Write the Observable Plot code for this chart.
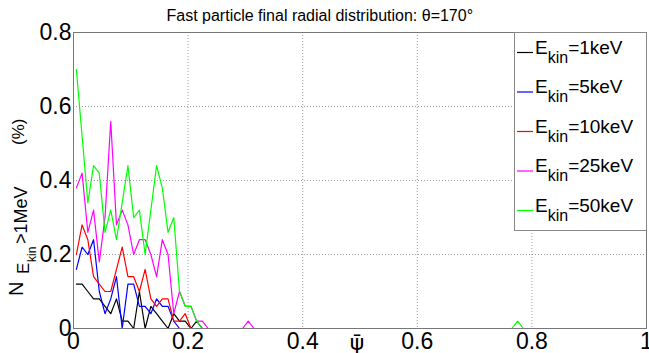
<!DOCTYPE html>
<html><head><meta charset="utf-8">
<script src="https://cdn.jsdelivr.net/npm/d3@7"></script>
<script src="https://cdn.jsdelivr.net/npm/@observablehq/plot@0.6"></script>
<style>html,body{margin:0;padding:0;background:#fff}svg{display:block}</style>
</head><body><div id="chart"></div>
<script>
// bin centres of normalised flux psi-bar
const psi = [0.005,0.015,0.025,0.035,0.045,0.055,0.065,0.075,0.085,0.095,
0.105,0.115,0.125,0.135,0.145,0.155,0.165,0.175,0.185,0.195,
0.205,0.215,0.225,0.235,0.245,0.255,0.265,0.275,0.285,0.295,
0.305,0.315,0.325,0.335,0.345,0.355,0.365,0.375,0.385,0.395,
0.405,0.415,0.425,0.435,0.445,0.455,0.465,0.475,0.485,0.495,
0.505,0.515,0.525,0.535,0.545,0.555,0.565,0.575,0.585,0.595,
0.605,0.615,0.625,0.635,0.645,0.655,0.665,0.675,0.685,0.695,
0.705,0.715,0.725,0.735,0.745,0.755,0.765,0.775,0.785,0.795,
0.805,0.815,0.825,0.835,0.845,0.855,0.865,0.875,0.885,0.895,
0.905,0.915,0.925,0.935,0.945,0.955,0.965,0.975,0.985,0.995];

const e1keV = [0.12,0.12,0.10,0.08,0.08,0.06,0.04,0.08,0.02,0.02,
0,0.10,0,0.06,0.04,0.02,0,0.04,0.02,0.02,
0,0.02,0,0,0,0,0,0,0,0, 0,0,0,0,0,0,0,0,0,0,
0,0,0,0,0,0,0,0,0,0, 0,0,0,0,0,0,0,0,0,0,
0,0,0,0,0,0,0,0,0,0, 0,0,0,0,0,0,0,0,0,0,
0,0,0,0,0,0,0,0,0,0, 0,0,0,0,0,0,0,0,0,0];
const e5keV = [0.16,0.22,0.20,0.24,0.10,0.04,0.08,0.14,0,0.12,
0.12,0.06,0.06,0.04,0.08,0.06,0.06,0.02,0,0,
0,0,0,0,0,0,0,0,0,0, 0,0,0,0,0,0,0,0,0,0,
0,0,0,0,0,0,0,0,0,0, 0,0,0,0,0,0,0,0,0,0,
0,0,0,0,0,0,0,0,0,0, 0,0,0,0,0,0,0,0,0,0,
0,0,0,0,0,0,0,0,0,0, 0,0,0,0,0,0,0,0,0,0];
const e10keV = [0.20,0.28,0.24,0.14,0.12,0.10,0.10,0.16,0.22,0.14,
0.14,0.10,0.16,0.08,0.06,0.08,0.08,0.02,0.02,0.04,
0,0,0,0,0,0,0,0,0,0, 0,0,0,0,0,0,0,0,0,0,
0,0,0,0,0,0,0,0,0,0, 0,0,0,0,0,0,0,0,0,0,
0,0,0,0,0,0,0,0,0,0, 0,0,0,0,0,0,0,0,0,0,
0,0,0,0,0,0,0,0,0,0, 0,0,0,0,0,0,0,0,0,0];
const e25keV = [0.38,0.42,0.26,0.32,0.18,0.30,0.56,0.28,0.32,0.28,
0.20,0.24,0.24,0.20,0.14,0.24,0.20,0.04,0.10,0.06,
0.06,0.02,0.02,0,0,0,0,0,0,0, 0.02,0,0,0,0,0,0,0,0,0,
0,0,0,0,0,0,0,0,0,0, 0,0,0,0,0,0,0,0,0,0,
0,0,0,0,0,0,0,0,0,0, 0,0,0,0,0,0,0,0,0,0,
0,0,0,0,0,0,0,0,0,0, 0,0,0,0,0,0,0,0,0,0];
const e50keV = [0.70,0.52,0.34,0.44,0.42,0.26,0.32,0.24,0.34,0.44,
0.30,0.32,0.20,0.32,0.44,0.38,0.26,0.30,0.10,0.06,
0.06,0.02,0,0,0,0,0,0,0,0, 0,0,0,0,0,0,0,0,0,0,
0,0,0,0,0,0,0,0,0,0, 0,0,0,0,0,0,0,0,0,0,
0,0,0,0,0,0,0,0,0,0, 0,0,0,0,0,0,0,0.02,0,0,
0,0,0,0,0,0,0,0,0,0, 0,0,0,0,0,0,0,0,0,0];

const energies = ["1keV","5keV","10keV","25keV","50keV"];
const seriesValues = [e1keV, e5keV, e10keV, e25keV, e50keV];
const colors = ["#000000","#0000ff","#ff0000","#ff00ff","#00ff00"];
const xTicks = [0,0.2,0.4,0.6,0.8,1];
const yTicks = [0,0.2,0.4,0.6,0.8];
const xGrid = [0.2,0.4,0.6,0.8];
const yGrid = [0.2,0.4,0.6];
const title = "Fast particle final radial distribution: \u03b8=170\u00b0";
const xLabel = "\u03c8\u0304";

const rows = [];
seriesValues.forEach((vals, s) => vals.forEach((v, i) => rows.push({psi: psi[i], n: v, series: energies[s]})));

const FONT = "Liberation Sans, Arial, Helvetica, sans-serif";
const fmt = d => String(d);

const svg = Plot.plot({
  width: 649, height: 353,
  marginLeft: 73, marginRight: 3, marginTop: 32, marginBottom: 25,
  style: {fontFamily: FONT, background: "#fff", color: "#000", overflow: "visible"},
  x: {domain: [0, 1]},
  y: {domain: [0, 0.8]},
  color: {domain: energies, range: colors},
  marks: [
    Plot.gridX(xGrid, {stroke: "#9a9a9a", strokeOpacity: 1, strokeDasharray: "1,2"}),
    Plot.gridY(yGrid, {stroke: "#9a9a9a", strokeOpacity: 1, strokeDasharray: "1,2"}),
    Plot.line(rows, {x: "psi", y: "n", z: "series", stroke: "series", strokeWidth: 1.2}),
    Plot.frame({stroke: "#777"}),
    Plot.axisX(xTicks, {anchor: "bottom", tickSize: 0, tickPadding: 4, fontSize: 23, tickFormat: fmt, label: null}),
    Plot.axisY(yTicks, {anchor: "left", tickSize: 0, tickPadding: 2, fontSize: 23, tickFormat: fmt, label: null}),
    Plot.text([title], {frameAnchor: "top-left", textAnchor: "start", dx: 93, dy: -17, fontSize: 16, lineAnchor: "middle"}),
    Plot.text([xLabel], {frameAnchor: "bottom", dx: -3, dy: 14, fontSize: 22, lineAnchor: "middle", fontFamily: "DejaVu Sans"})
  ]
});

// y-axis label with nested subscripts
const s = d3.select(svg);
const yl = s.append("text")
  .attr("transform", "translate(23,296) rotate(-90)")
  .attr("text-anchor", "start")
  .attr("font-family", FONT).attr("fill", "#000");
yl.append("tspan").attr("font-size", 20).attr("x", 0).attr("y", 0).text("N");
yl.append("tspan").attr("font-size", 17).attr("x", 22).attr("y", 6).text("E");
yl.append("tspan").attr("font-size", 12).attr("x", 34).attr("y", 13).text("kin");
yl.append("tspan").attr("font-size", 18).attr("x", 52).attr("y", 4).text(">1MeV");
yl.append("tspan").attr("font-size", 17).attr("x", 151).attr("y", 1).text("(%)");

// legend
const lg = s.append("g").attr("font-family", FONT).attr("text-anchor", "start");
lg.append("rect").attr("x", 514.5).attr("y", 32.5).attr("width", 132).attr("height", 198)
  .attr("fill", "#fff").attr("stroke", "#888").attr("stroke-width", 1);
energies.forEach((e, k) => {
  const y = 52.5 + k * 39.5;
  lg.append("line").attr("x1", 517).attr("x2", 533).attr("y1", y).attr("y2", y)
    .attr("stroke", colors[k]).attr("stroke-width", 1.2);
  const t = lg.append("text").attr("x", 535).attr("y", y + 1).attr("fill", "#000").attr("text-anchor", "start");
  t.append("tspan").attr("font-size", 19).text("E");
  t.append("tspan").attr("font-size", 16).attr("dy", 9).text("kin");
  t.append("tspan").attr("font-size", 19).attr("dy", -9).text("=" + e);
});

document.getElementById("chart").appendChild(svg);
</script>
</body></html>
